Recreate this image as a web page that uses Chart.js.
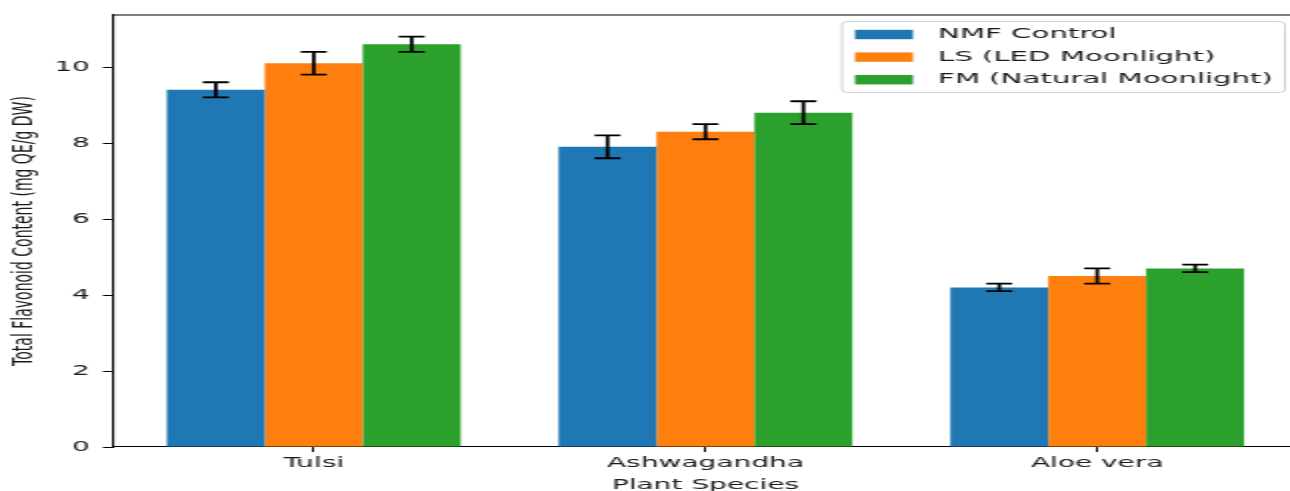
<!DOCTYPE html>
<html>
<head>
<meta charset="utf-8">
<script src="https://cdn.jsdelivr.net/npm/chart.js@4/dist/chart.umd.min.js"></script>
<style>
  html, body { margin: 0; padding: 0; background: #fff; }
  #frame { width: 1290px; height: 491px; overflow: hidden; position: relative; }
  #stretch { width: 660px; height: 491px; transform: scaleX(2); transform-origin: 0 0; }
  canvas { display: block; }
</style>
</head>
<body>
<div id="frame"><div id="stretch"><canvas id="c" width="660" height="491"></canvas></div></div>
<script>
// Plant species along the x axis
const categories = ['Tulsi', 'Ashwagandha', 'Aloe vera'];

// Series labels
const seriesNames = ['NMF Control', 'LS (LED Moonlight)', 'FM (Natural Moonlight)'];

// Mean flavonoid content (mg QE/g DW)
const nmfValues = [9.4, 7.9, 4.2];
const lsValues  = [10.1, 8.3, 4.5];
const fmValues  = [10.6, 8.8, 4.7];

// Standard deviations for the error bars
const nmfErrors = [0.2, 0.3, 0.1];
const lsErrors  = [0.3, 0.2, 0.2];
const fmErrors  = [0.2, 0.3, 0.1];

// Y axis tick labels
const yTicks = [0, 2, 4, 6, 8, 10];

const seriesColors = ['#1f77b4', '#ff7f0e', '#2ca02c'];
const seriesValues = [nmfValues, lsValues, fmValues];
const seriesErrors = [nmfErrors, lsErrors, fmErrors];

const FONT = { family: '"DejaVu Sans", sans-serif', size: 14 };
const TEXT = '#1a1a1a';

const datasets = seriesNames.map((name, i) => ({
  label: name,
  data: seriesValues[i].map((v, j) => ({ x: j, y: v })),
  errors: seriesErrors[i],
  backgroundColor: seriesColors[i],
  borderWidth: 0,
  categoryPercentage: 0.75,
  barPercentage: 1.0
}));

// Error bars with caps, placed through the chart's own scales
const errorBars = {
  id: 'errorBars',
  afterDatasetsDraw(chart) {
    const ctx = chart.ctx;
    const yScale = chart.scales.y;
    ctx.save();
    ctx.strokeStyle = '#000';
    ctx.lineWidth = 1.8;
    chart.data.datasets.forEach((ds, i) => {
      const meta = chart.getDatasetMeta(i);
      meta.data.forEach((bar, j) => {
        const v = ds.data[j].y, e = ds.errors[j];
        const yHi = yScale.getPixelForValue(v + e);
        const yLo = yScale.getPixelForValue(v - e);
        const cap = 6.5;
        ctx.beginPath();
        ctx.moveTo(bar.x, yHi); ctx.lineTo(bar.x, yLo);
        ctx.moveTo(bar.x - cap, yHi); ctx.lineTo(bar.x + cap, yHi);
        ctx.moveTo(bar.x - cap, yLo); ctx.lineTo(bar.x + cap, yLo);
        ctx.stroke();
      });
    });
    ctx.restore();
  }
};

// Top spine of the axes frame
const frameTop = {
  id: 'frameTop',
  afterDraw(chart) {
    const { ctx, chartArea: a } = chart;
    ctx.save();
    ctx.strokeStyle = '#000';
    ctx.lineWidth = 1.1;
    ctx.beginPath();
    ctx.moveTo(a.left, a.top);
    ctx.lineTo(a.right, a.top);
    ctx.stroke();
    ctx.restore();
  }
};

// Boxed legend in the upper right corner of the plot area
const boxLegend = {
  id: 'boxLegend',
  afterDraw(chart) {
    const ctx = chart.ctx;
    const x0 = 421, y0 = 21.5, w = 221.5, h = 71, r = 3;
    ctx.save();
    ctx.beginPath();
    ctx.moveTo(x0 + r, y0);
    ctx.arcTo(x0 + w, y0, x0 + w, y0 + h, r);
    ctx.arcTo(x0 + w, y0 + h, x0, y0 + h, r);
    ctx.arcTo(x0, y0 + h, x0, y0, r);
    ctx.arcTo(x0, y0, x0 + w, y0, r);
    ctx.closePath();
    ctx.fillStyle = 'rgba(255,255,255,0.8)';
    ctx.fill();
    ctx.strokeStyle = '#d0d0d0';
    ctx.lineWidth = 1;
    ctx.stroke();
    ctx.font = '14.6px ' + FONT.family;
    ctx.textBaseline = 'middle';
    ctx.textAlign = 'left';
    chart.data.datasets.forEach((ds, i) => {
      const cy = 34.5 + i * 22.6;
      ctx.fillStyle = ds.backgroundColor;
      ctx.fillRect(427.5, cy - 4.7, 29, 9.4);
      ctx.fillStyle = TEXT;
      ctx.fillText(ds.label, 469, cy);
    });
    ctx.restore();
  }
};

new Chart(document.getElementById('c'), {
  type: 'bar',
  data: { datasets },
  plugins: [errorBars, frameTop, boxLegend],
  options: {
    responsive: false,
    animation: false,
    devicePixelRatio: 1,
    layout: { padding: { top: 15, right: 11, left: 0, bottom: 0 } },
    plugins: { legend: { display: false }, tooltip: { enabled: false } },
    scales: {
      x: {
        type: 'linear',
        min: -0.5125,
        max: 2.5125,
        offset: false,
        afterBuildTicks: s => { s.ticks = categories.map((_, i) => ({ value: i })); },
        afterFit: s => { s.height = 44; },
        ticks: {
          callback: v => categories[v],
          font: FONT, color: TEXT, padding: 3,
          autoSkip: false, maxRotation: 0, minRotation: 0
        },
        grid: { offset: false, drawOnChartArea: false, drawTicks: true, tickLength: 5, color: '#000', lineWidth: 1 },
        border: { display: true, color: '#000', width: 1.1 },
        title: { display: true, text: 'Plant Species', font: FONT, color: TEXT, padding: { top: 0, bottom: -2.4 } }
      },
      y: {
        type: 'linear',
        min: 0,
        max: 11.37,
        afterBuildTicks: s => { s.ticks = yTicks.map(v => ({ value: v })); },
        afterFit: s => { s.width = 56.5; },
        ticks: { font: FONT, color: TEXT, padding: 6.5 },
        grid: { drawOnChartArea: false, drawTicks: true, tickLength: 5, color: '#000', lineWidth: 1 },
        border: { display: true, color: '#000', width: 1.1 },
        title: { display: true, text: 'Total Flavonoid Content (mg QE/g DW)', font: FONT, color: TEXT, padding: { top: 4, bottom: 0 } }
      }
    }
  }
});
</script>
</body>
</html>
